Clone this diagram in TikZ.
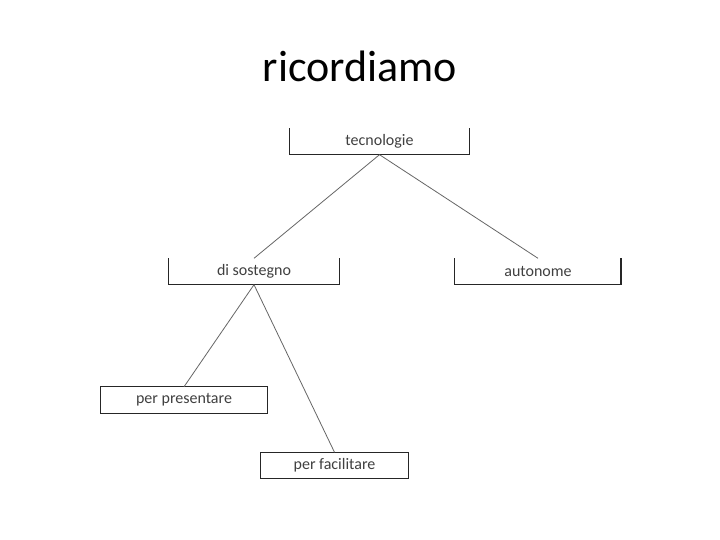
\documentclass[tikz,border=0pt]{standalone}
\usepackage{fontspec}
\setmainfont{Carlito}
\begin{document}
\begin{tikzpicture}[x=1pt,y=-1pt,
  boxnode/.style={rectangle, draw=none, inner sep=0pt, minimum height=26pt, text=black!75, font=\fontsize{16}{18}\selectfont},
  conn/.style={draw=black!60, line width=0.8pt},
  border/.style={draw=black!85, line width=0.8pt}]
\useasboundingbox (0,0) rectangle (720,540);
\fill[white] (0,0) rectangle (720,540);
\node[font=\fontsize{44}{50}\selectfont, anchor=base] (title) at (360,82) {ricordiamo};
\node[boxnode, minimum width=179pt] (tec) at (379.5,141.5) {tecnologie};
\node[boxnode, minimum width=170pt] (sos) at (254,271.5) {di sostegno};
\node[boxnode, minimum width=166pt] (aut) at (538,271.5) {autonome};
\node[boxnode, minimum width=166pt] (pre) at (184,400) {per presentare};
\node[boxnode, minimum width=147pt] (fac) at (334.5,465.5) {per facilitare};
% open-top boxes
\draw[border] (tec.north west) -- (tec.south west) -- (tec.south east) -- (tec.north east);
\draw[border] (sos.north west) -- (sos.south west) -- (sos.south east) -- (sos.north east);
\draw[border] (aut.north west) -- (aut.south west) -- (aut.south east);
\draw[draw=black!85, line width=1.6pt] (aut.south east) -- (aut.north east);
% closed boxes
\draw[border] (pre.north west) rectangle (pre.south east);
\draw[border] (fac.north west) rectangle (fac.south east);
% connectors
\draw[conn] (tec.south) -- (sos.north);
\draw[conn] (tec.south) -- (aut.north);
\draw[conn] (sos.south) -- (pre.north);
\draw[conn] (sos.south) -- (fac.north);
\end{tikzpicture}
\end{document}
